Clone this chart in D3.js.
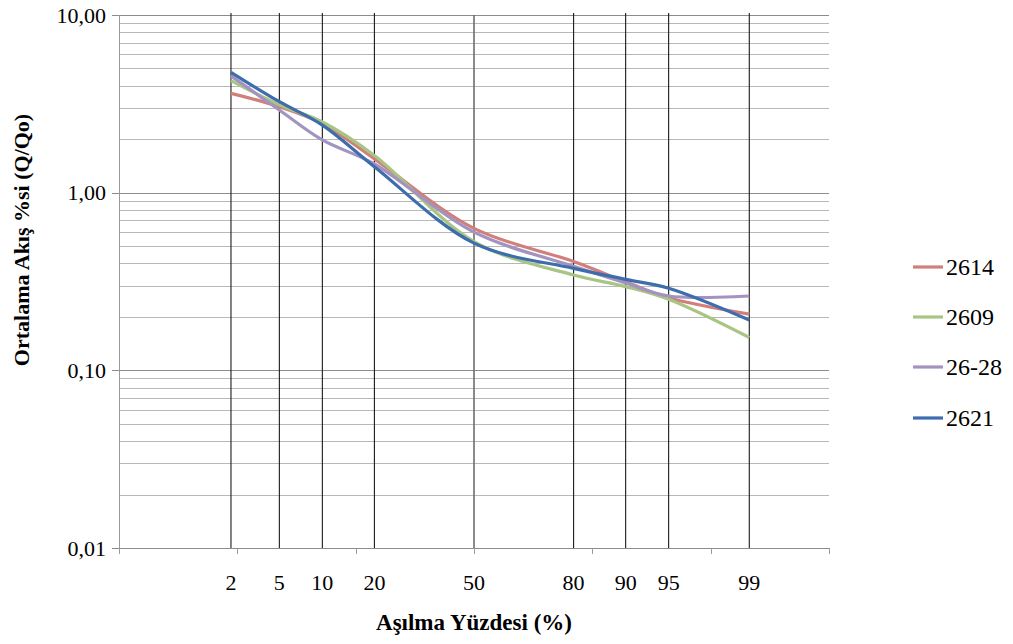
<!DOCTYPE html>
<html>
<head>
<meta charset="utf-8">
<script src="https://cdn.jsdelivr.net/npm/d3@7"></script>
<style>
  html, body { margin: 0; padding: 0; background: #fff; }
  svg { display: block; }
  svg text { font-family: 'Liberation Serif', 'Tinos', 'DejaVu Serif', serif; }
</style>
</head>
<body>
<svg id="chart" width="1013" height="644"></svg>
<script>
// Exceedance percentages (x positions on normal probability scale)
const percents = [2, 5, 10, 20, 50, 80, 90, 95, 99];
const percentLabels = ["2", "5", "10", "20", "50", "80", "90", "95", "99"];

// Mean flow ratio (Q/Qo) for each station at the exceedance percentages
const seriesNames = ["2614", "2609", "26-28", "2621"];
const s2614 = [3.62, 3.05, 2.45, 1.55, 0.63, 0.41, 0.315, 0.256, 0.207];
const s2609 = [4.27, 3.12, 2.50, 1.62, 0.53, 0.344, 0.296, 0.251, 0.153];
const s2628 = [4.54, 2.92, 1.98, 1.45, 0.60, 0.385, 0.31, 0.262, 0.262];
const s2621 = [4.76, 3.25, 2.40, 1.40, 0.52, 0.375, 0.325, 0.29, 0.192];
const seriesColors = ["#d07f7b", "#a9c583", "#a393c0", "#3d6dac"];

// Y axis ticks (log scale)
const yTicks = [10, 1, 0.1, 0.01];
const yTickLabels = ["10,00", "1,00", "0,10", "0,01"];

const FONT = "'Liberation Serif', Tinos, 'DejaVu Serif', serif";
const svg = d3.select("#chart");
const plotLeft = 119, plotRight = 829, plotTop = 15, plotBottom = 548;

// Inverse standard normal CDF (Acklam) – maps a probability onto the z axis
function probit(p) {
  const a = [-3.969683028665376e+01, 2.209460984245205e+02, -2.759285104469687e+02, 1.383577518672690e+02, -3.066479806614716e+01, 2.506628277459239e+00];
  const b = [-5.447609879822406e+01, 1.615858368580409e+02, -1.556989798598866e+02, 6.680131188771972e+01, -1.328068155288572e+01];
  const c = [-7.784894002430293e-03, -3.223964580411365e-01, -2.400758277161838e+00, -2.549732539343734e+00, 4.374664141464968e+00, 2.938163982698783e+00];
  const d = [7.784695709041462e-03, 3.224671290700398e-01, 2.445134137142996e+00, 3.754408661907416e+00];
  const pl = 0.02425, ph = 1 - pl;
  let q, r;
  if (p < pl) {
    q = Math.sqrt(-2 * Math.log(p));
    return (((((c[0]*q+c[1])*q+c[2])*q+c[3])*q+c[4])*q+c[5]) / ((((d[0]*q+d[1])*q+d[2])*q+d[3])*q+1);
  } else if (p <= ph) {
    q = p - 0.5; r = q * q;
    return (((((a[0]*r+a[1])*r+a[2])*r+a[3])*r+a[4])*r+a[5])*q / (((((b[0]*r+b[1])*r+b[2])*r+b[3])*r+b[4])*r+1);
  } else {
    q = Math.sqrt(-2 * Math.log(1 - p));
    return -(((((c[0]*q+c[1])*q+c[2])*q+c[3])*q+c[4])*q+c[5]) / ((((d[0]*q+d[1])*q+d[2])*q+d[3])*q+1);
  }
}

const zScale = d3.scaleLinear().domain([-3, 3]).range([plotLeft, plotRight]);
const x = p => zScale(probit(p / 100));
const y = d3.scaleLog().domain([0.01, 10]).range([plotBottom, plotTop]);

// Horizontal gridlines: minor values first, then decades
const minorVals = [];
for (const dec of [0.01, 0.1, 1]) for (let k = 2; k <= 9; k++) minorVals.push(dec * k);
svg.append("g").selectAll("line").data(minorVals).join("line")
  .attr("x1", plotLeft).attr("x2", plotRight)
  .attr("y1", v => Math.round(y(v)) + 0.5).attr("y2", v => Math.round(y(v)) + 0.5)
  .attr("stroke", "#b8b8b8").attr("stroke-width", 1);
svg.append("g").selectAll("line").data(yTicks).join("line")
  .attr("x1", plotLeft - 7).attr("x2", plotRight)
  .attr("y1", v => Math.round(y(v)) + 0.5).attr("y2", v => Math.round(y(v)) + 0.5)
  .attr("stroke", "#8c8c8c").attr("stroke-width", 1);

// Left axis line
svg.append("line").attr("x1", plotLeft + 0.5).attr("x2", plotLeft + 0.5)
  .attr("y1", plotTop).attr("y2", plotBottom + 6)
  .attr("stroke", "#9a9a9a").attr("stroke-width", 1);

// Bottom tick marks at integer z
svg.append("g").selectAll("line").data(d3.range(-2, 4)).join("line")
  .attr("x1", z => Math.round(zScale(z)) + 0.5).attr("x2", z => Math.round(zScale(z)) + 0.5)
  .attr("y1", plotBottom).attr("y2", plotBottom + 6)
  .attr("stroke", "#9a9a9a").attr("stroke-width", 1);

// Vertical reference lines at each exceedance percentage
svg.append("g").selectAll("line").data(percents).join("line")
  .attr("x1", p => x(p)).attr("x2", p => x(p))
  .attr("y1", p => p === 50 ? plotTop : plotTop - 2).attr("y2", plotBottom)
  .attr("stroke", p => p === 50 ? "#6e6e6e" : "#1a1a1a")
  .attr("stroke-width", p => p === 50 ? 1.6 : 1.1);

// Series lines
const series = [s2614, s2609, s2628, s2621];
const line = d3.line()
  .x((d, i) => x(percents[i]))
  .y(d => y(d))
  .curve(d3.curveCatmullRom.alpha(0.5));
svg.append("g").selectAll("path").data(series).join("path")
  .attr("d", d => line(d))
  .attr("fill", "none")
  .attr("stroke", (d, i) => seriesColors[i])
  .attr("stroke-width", 3.2)
  .attr("stroke-linecap", "butt");

// Y tick labels
svg.append("g").selectAll("text").data(yTicks).join("text")
  .attr("x", 106).attr("y", v => y(v))
  .attr("dy", "0.35em")
  .attr("text-anchor", "end")
  .attr("font-family", FONT)
  .attr("font-size", 22)
  .attr("fill", "#000")
  .text((v, i) => yTickLabels[i]);

// X tick labels
svg.append("g").selectAll("text").data(percents).join("text")
  .attr("x", p => x(p)).attr("y", 590)
  .attr("text-anchor", "middle")
  .attr("font-family", FONT)
  .attr("font-size", 22)
  .attr("fill", "#000")
  .text((p, i) => percentLabels[i]);

// Axis titles
svg.append("text")
  .attr("x", x(50)).attr("y", 630)
  .attr("text-anchor", "middle")
  .attr("font-family", FONT)
  .attr("font-size", 23).attr("font-weight", "bold")
  .text("Aşılma Yüzdesi (%)");

svg.append("text")
  .attr("transform", "translate(29,240) rotate(-90)")
  .attr("text-anchor", "middle")
  .attr("font-family", FONT)
  .attr("font-size", 22).attr("font-weight", "bold")
  .text("Ortalama Akış %si (Q/Qo)");

// Legend
const legendY = [267, 317, 367, 418];
const legend = svg.append("g").selectAll("g").data(seriesNames).join("g")
  .attr("transform", (d, i) => `translate(913,${legendY[i]})`);
legend.append("line")
  .attr("x1", 0).attr("x2", 30).attr("y1", 0).attr("y2", 0)
  .attr("stroke", (d, i) => seriesColors[i]).attr("stroke-width", 3.2);
legend.append("text")
  .attr("x", 33).attr("y", 0).attr("dy", "0.35em")
  .attr("font-family", FONT)
  .attr("font-size", 24)
  .text(d => d);
</script>
</body>
</html>
